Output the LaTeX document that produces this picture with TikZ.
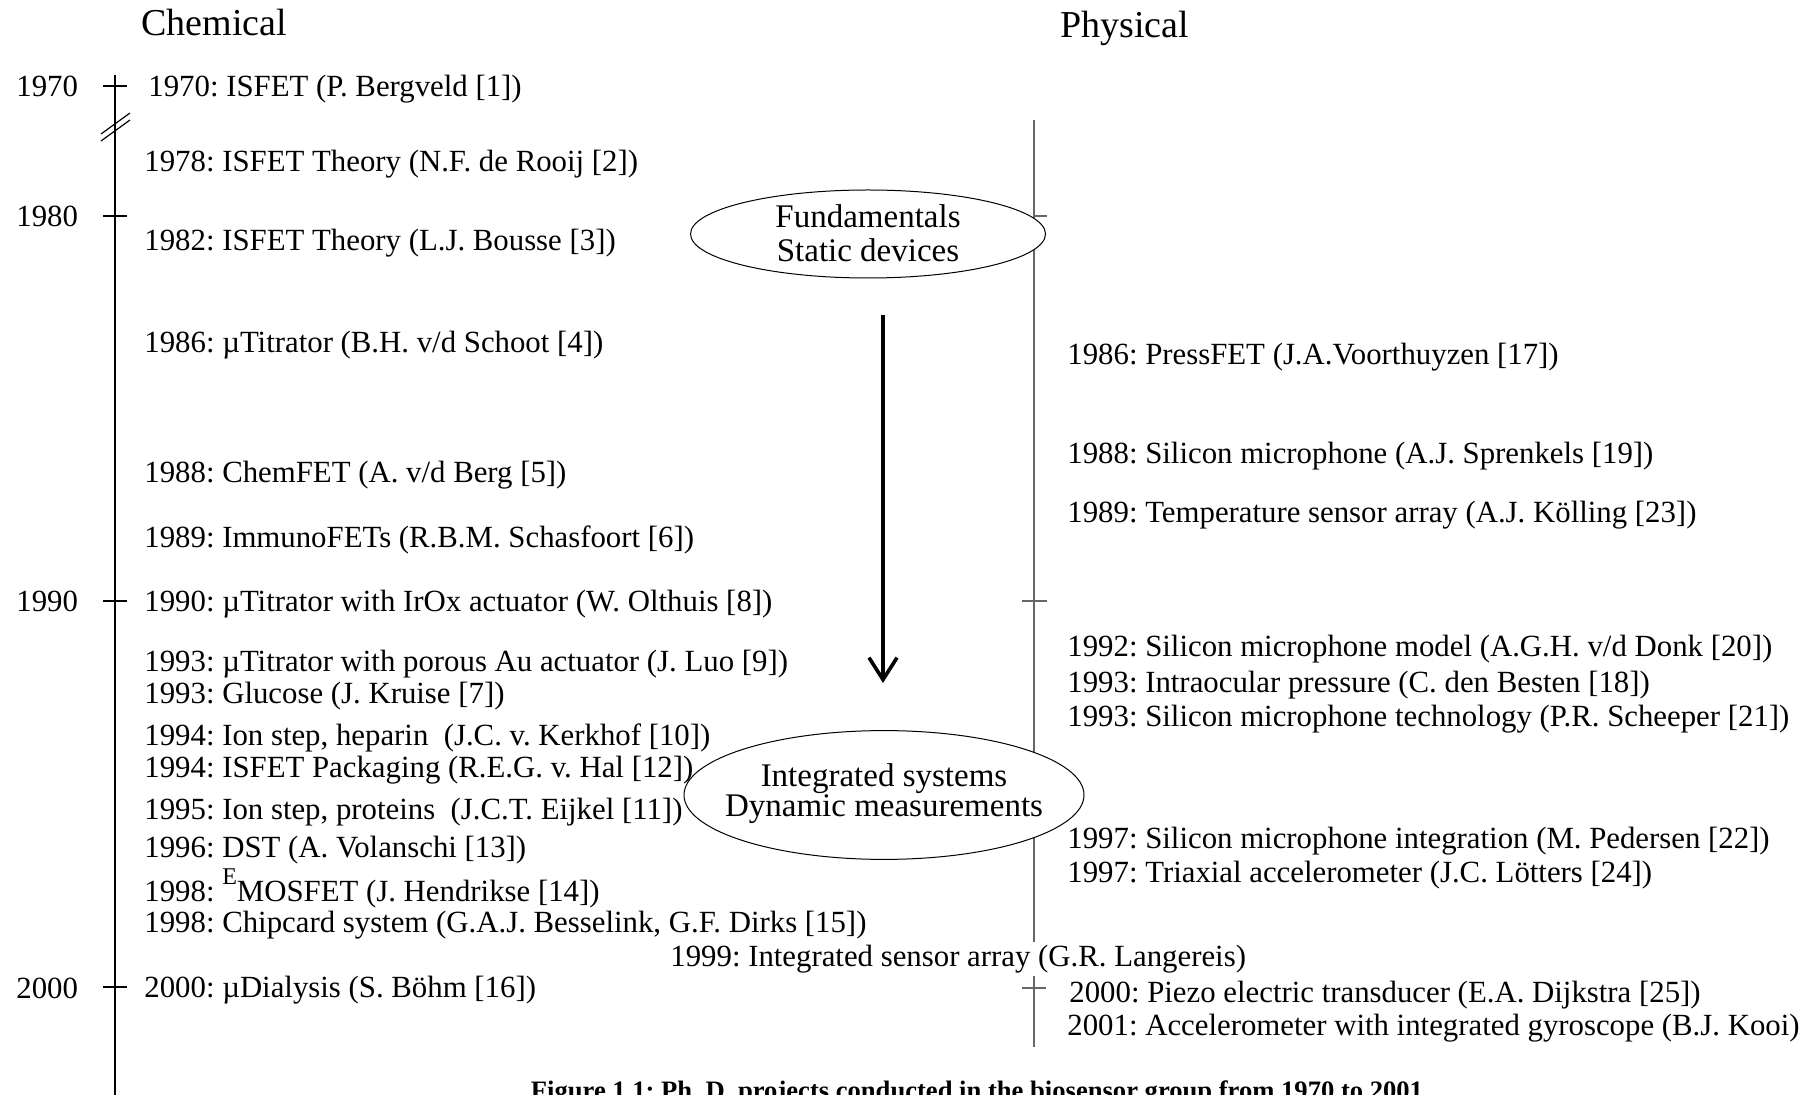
\documentclass[tikz,border=0pt]{standalone}
\usepackage{fontspec}
\setmainfont{Liberation Serif}
\usetikzlibrary{shapes.geometric,arrows.meta}
\newcommand{\phasetext}[2]{\makebox[0pt]{\smash{\raisebox{#1}{\begin{tabular}{@{}c@{}}#2\end{tabular}}}}}
\begin{document}
\frenchspacing
\begin{tikzpicture}[x=0.5pt,y=-0.5pt,
  item/.style={anchor=base west,inner sep=0pt,font=\fontsize{15.4}{18}\selectfont},
  heading/.style={anchor=base west,inner sep=0pt,font=\fontsize{19}{22}\selectfont},
  laxis/.style={line width=0.6pt,black},
  raxis/.style={line width=0.6pt,black!60},
  phase/.style={ellipse,draw,fill=white,line width=0.5pt,inner sep=0pt,outer sep=0pt,
                font=\fontsize{16.5}{16}\selectfont},
  flow/.style={line width=1.8pt,-{Straight Barb[length=11pt,width=14pt]}},
  caption/.style={anchor=base,inner sep=0pt,font=\bfseries\fontsize{13.3}{16}\selectfont}]
\clip (0,0) rectangle (1819,1095);
\fill[white] (0,0) rectangle (1819,1095);

% headings
\node[heading] (hchem) at (141,36) {Chemical};
\node[heading] (hphys) at (1060,38) {Physical};

% left time axis
\coordinate (latop) at (115,75);
\coordinate (labot) at (115,1100);
\draw[laxis] (latop) -- (labot);
\foreach \yy/\nm in {86/a,216/b,601/c,987/d}{
  \coordinate (lt\nm l) at (103,\yy);
  \coordinate (lt\nm r) at (127,\yy);
  \draw[laxis] (lt\nm l) -- (lt\nm r);
}
% break marks
\coordinate (br1a) at (101,134); \coordinate (br1b) at (130,113);
\coordinate (br2a) at (101,141); \coordinate (br2b) at (130,120);
\draw[laxis] (br1a) -- (br1b);
\draw[laxis] (br2a) -- (br2b);

% year labels
\node[item] (y1970) at (16,97) {1970};
\node[item] (y1980) at (16,227) {1980};
\node[item] (y1990) at (16,612) {1990};
\node[item] (y2000) at (16,998) {2000};

% right time axis
\coordinate (ratop) at (1034,120);
\coordinate (rabot) at (1034,1047);
\draw[raxis] (ratop) -- (rabot);
\coordinate (rt1l) at (1034,216); \coordinate (rt1r) at (1047,216);
\draw[raxis] (rt1l) -- (rt1r);
\coordinate (rt2l) at (1022,601); \coordinate (rt2r) at (1047,601);
\draw[raxis] (rt2l) -- (rt2r);
\coordinate (rt3l) at (1022,988); \coordinate (rt3r) at (1046,988);
\draw[raxis] (rt3l) -- (rt3r);

% phase ellipses
\node[phase,minimum width=177.5pt,minimum height=44pt] (fund) at (868,234)
  {\phasetext{-6.3pt}{Fundamentals\\[1pt]Static devices}};
\node[phase,minimum width=200pt,minimum height=64.4pt] (integ) at (884,795)
  {\phasetext{-4.2pt}{Integrated systems\\[-1pt]Dynamic measurements}};

% arrow
\coordinate (arrs) at (883,315);
\coordinate (arre) at (883,683);
\draw[flow] (arrs) -- (arre);

% chemical projects
\node[item] (c1970) at (148,97) {1970: ISFET (P. Bergveld [1])};
\node[item] (c1978) at (144,172) {1978: ISFET Theory (N.F. de Rooij [2])};
\node[item] (c1982) at (144,251) {1982: ISFET Theory (L.J. Bousse [3])};
\node[item] (c1986) at (144,353) {1986: µTitrator (B.H. v/d Schoot [4])};
\node[item] (c1988) at (144,483) {1988: ChemFET (A. v/d Berg [5])};
\node[item] (c1989) at (144,548) {1989: ImmunoFETs (R.B.M. Schasfoort [6])};
\node[item] (c1990) at (144,612) {1990: µTitrator with IrOx actuator (W. Olthuis [8])};
\node[item] (c1993a) at (144,671) {1993: µTitrator with porous Au actuator (J. Luo [9])};
\node[item] (c1993b) at (144,704) {1993: Glucose (J. Kruise [7])};
\node[item] (c1994a) at (144,745) {1994: Ion step, heparin\ \ (J.C. v. Kerkhof [10])};
\node[item] (c1994b) at (144,777) {1994: ISFET Packaging (R.E.G. v. Hal [12])};
\node[item] (c1995) at (144,819) {1995: Ion step, proteins\ \ (J.C.T. Eijkel [11])};
\node[item] (c1996) at (144,857) {1996: DST (A. Volanschi [13])};
\node[item] (c1998a) at (144,901) {1998: \raisebox{0.55em}{\fontsize{12}{12}\selectfont E}MOSFET (J. Hendrikse [14])};
\node[item] (c1998b) at (144,932) {1998: Chipcard system (G.A.J. Besselink, G.F. Dirks [15])};
\node[item,fill=white,inner ysep=1.5pt] (c1999) at (670,966) {1999: Integrated sensor array (G.R. Langereis)};
\node[item] (c2000) at (144,997) {2000: µDialysis (S. Böhm [16])};

% physical projects
\node[item] (p1986) at (1067,365) {1986: PressFET (J.A.Voorthuyzen [17])};
\node[item] (p1988) at (1067,464) {1988: Silicon microphone (A.J. Sprenkels [19])};
\node[item] (p1989) at (1067,523) {1989: Temperature sensor array (A.J. Kölling [23])};
\node[item] (p1992) at (1067,656) {1992: Silicon microphone model (A.G.H. v/d Donk [20])};
\node[item] (p1993a) at (1067,692) {1993: Intraocular pressure (C. den Besten [18])};
\node[item] (p1993b) at (1067,726) {1993: Silicon microphone technology (P.R. Scheeper [21])};
\node[item] (p1997a) at (1067,848) {1997: Silicon microphone integration (M. Pedersen [22])};
\node[item] (p1997b) at (1067,882) {1997: Triaxial accelerometer (J.C. Lötters [24])};
\node[item] (p2000) at (1069,1002) {2000: Piezo electric transducer (E.A. Dijkstra [25])};
\node[item] (p2001) at (1067,1035) {2001: Accelerometer with integrated gyroscope (B.J. Kooi)};

% caption (cut off at the bottom edge, as in the reference)
\node[caption] (cap) at (977,1099) {Figure 1.1: Ph. D. projects conducted in the biosensor group from 1970 to 2001};
\end{tikzpicture}
\end{document}
